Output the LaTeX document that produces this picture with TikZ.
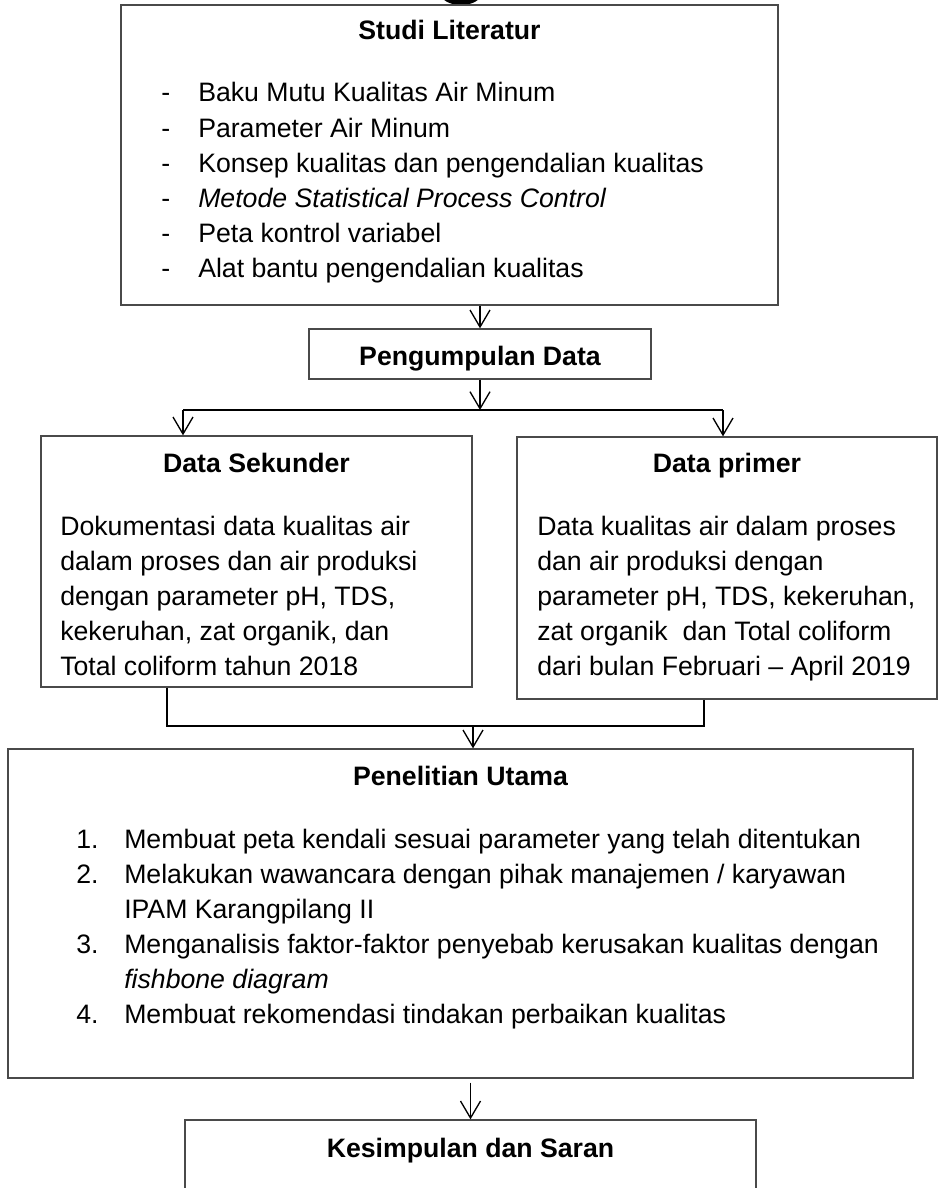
\documentclass[tikz,border=0pt]{standalone}
\usepackage{fontspec}
\setmainfont{Liberation Sans}
\usetikzlibrary{arrows.meta,fit}

\newcommand{\ukuran}{\fontsize{20}{26.25}\selectfont}

\tikzset{
  boxx/.style={draw={rgb, 255:red, 74; green, 74; blue, 74 }, line width=1pt, inner sep=0pt},
  judul/.style={anchor=base, inner sep=0pt, font=\ukuran\bfseries},
  isi/.style={anchor=base west, inner sep=0pt, align=left, font=\ukuran},
  garis/.style={draw={rgb, 255:red, 0; green, 0; blue, 0 }, line width=1pt},
  panah/.style={garis, -{Straight Barb[length=12.75pt,width=15pt]}}
}

\begin{document}
\begin{tikzpicture}[x=0.75pt,y=0.75pt,yscale=-1,xscale=1]
\useasboundingbox (0,0) rectangle (940,1188); %diagram is 940 wide and 1188 high

%Shape: Circle (cut off by the top edge)
\fill (461,-6) ellipse [x radius=15pt, y radius=8.25pt];

%Shape: Rectangle
\node [boxx, fit={(121,5) (778,305)}] (lit) {};
%Shape: Rectangle
\node [boxx, fit={(309,329) (651,379)}] (kumpul) {};
%Shape: Rectangle
\node [boxx, fit={(41,436) (472,687)}] (sekunder) {};
%Shape: Rectangle
\node [boxx, fit={(517,437) (937,699)}] (primer) {};
%Shape: Rectangle
\node [boxx, fit={(8,749) (913,1078)}] (utama) {};
%Shape: Rectangle
\node [boxx, fit={(185,1120) (756,1200)}] (saran) {};

%Points where the lines split and join
\coordinate (bagi) at (480,410);
\coordinate (bagiL) at (183,410);
\coordinate (bagiR) at (723,410);
\coordinate (gabungL) at (167,726);
\coordinate (gabungR) at (704,726);
\coordinate (gabung) at (473,726);

%Straight Lines
\draw [panah] (kumpul.north |- lit.south) -- (kumpul.north);
%Straight Lines
\draw [panah] (kumpul.south) -- (bagi);
\draw [garis] (bagiL) -- (bagiR);
\draw [panah] (bagiL) -- (bagiL |- sekunder.north);
\draw [panah] (bagiR) -- (bagiR |- primer.north);
%Straight Lines
\draw [garis] (gabungL |- sekunder.south) -- (gabungL) -- (gabungR) -- (gabungR |- primer.south);
\draw [panah] (gabung) -- (gabung |- utama.north);
%Straight Lines
\draw [panah, shorten <=3pt] (saran.north |- utama.south) -- (saran.north);

% Text Node
\node [judul] (litT) at (449.5,40) {Studi Literatur};
% Text Node
\node [isi] (litL) at (161,102) {\begin{tabular}[t]{@{}p{27.75pt}@{}l@{}}
- & Baku Mutu Kualitas Air Minum\\
- & Parameter Air Minum\\
- & Konsep kualitas dan pengendalian kualitas\\
- & \textit{Metode Statistical Process Control}\\
- & Peta kontrol variabel\\
- & Alat bantu pengendalian kualitas
\end{tabular}};
% Text Node
\node [judul] (kumpulT) at (480,365) {Pengumpulan Data};
% Text Node
\node [judul] (sekunderT) at (256.5,472) {Data Sekunder};
% Text Node
\node [isi] (sekunderL) at (60,535) {\begin{tabular}[t]{@{}l@{}}
Dokumentasi data kualitas air\\
dalam proses dan air produksi\\
dengan parameter pH, TDS,\\
kekeruhan, zat organik, dan\\
Total coliform tahun 2018
\end{tabular}};
% Text Node
\node [judul] (primerT) at (727,472) {Data primer};
% Text Node
\node [isi] (primerL) at (537,535) {\begin{tabular}[t]{@{}l@{}}
Data kualitas air dalam proses\\
dan air produksi dengan\\
parameter pH, TDS, kekeruhan,\\
zat organik~ dan Total coliform\\
dari bulan Februari -- April 2019
\end{tabular}};
% Text Node
\node [judul] (utamaT) at (460.5,785) {Penelitian Utama};
% Text Node
\node [isi] (utamaL) at (76,848) {\begin{tabular}[t]{@{}p{36pt}@{}l@{}}
1. & Membuat peta kendali sesuai parameter yang telah ditentukan\\
2. & Melakukan wawancara dengan pihak manajemen / karyawan\\
   & IPAM Karangpilang II\\
3. & Menganalisis faktor-faktor penyebab kerusakan kualitas dengan\\
   & \textit{fishbone diagram}\\
4. & Membuat rekomendasi tindakan perbaikan kualitas
\end{tabular}};
% Text Node
\node [judul] (saranT) at (470.5,1157) {Kesimpulan dan Saran};

\end{tikzpicture}
\end{document}
